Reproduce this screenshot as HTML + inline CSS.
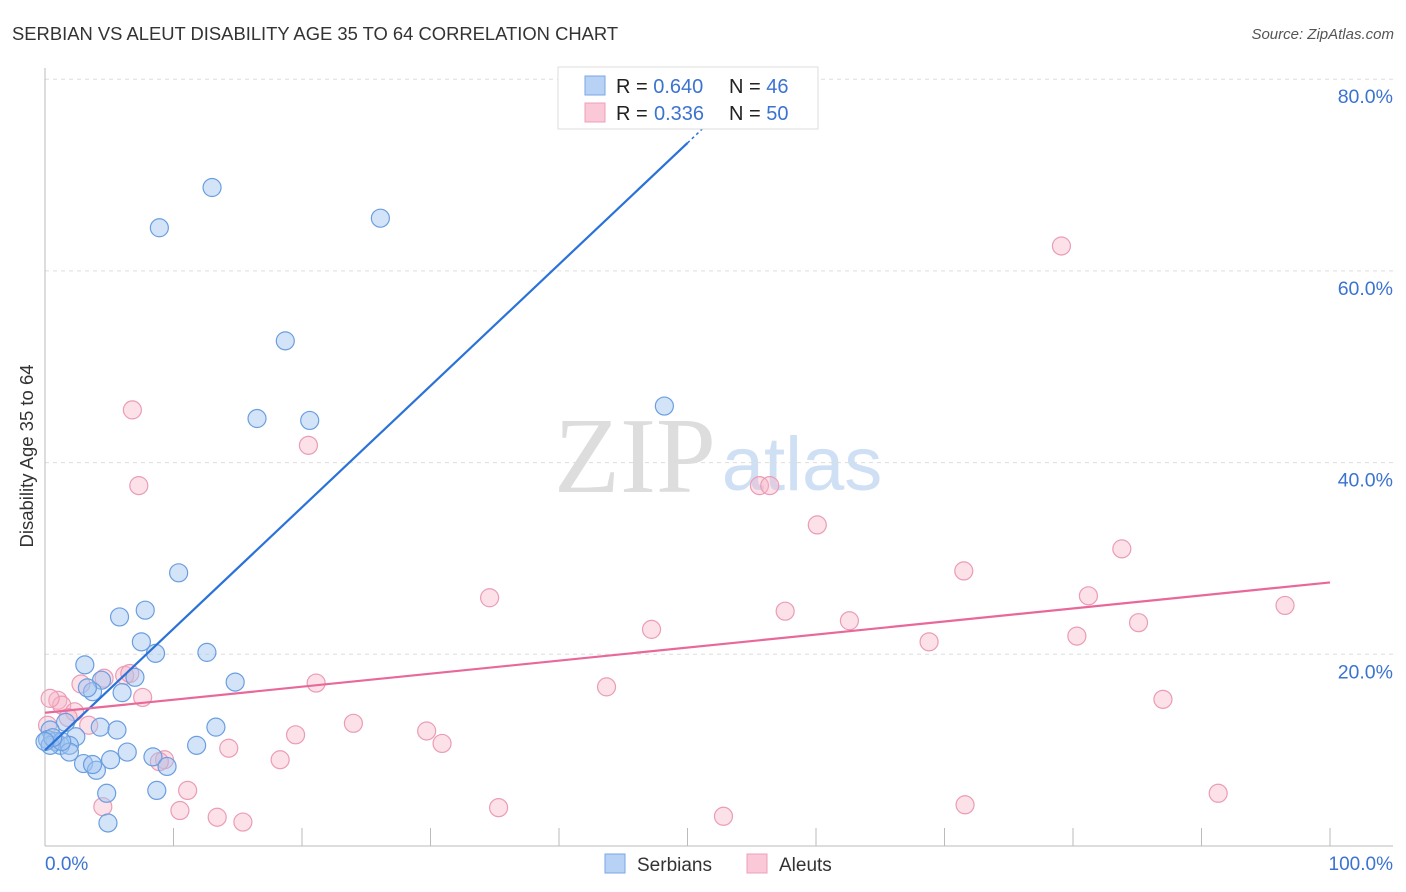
<!DOCTYPE html>
<html><head><meta charset="utf-8"><style>
body{margin:0;background:#fff;font-family:"Liberation Sans",sans-serif;}
svg{display:block}
</style></head><body>
<svg id="chart" width="1406" height="892" xmlns="http://www.w3.org/2000/svg">
<text x="12" y="40" font-size="18.4" fill="#333">SERBIAN VS ALEUT DISABILITY AGE 35 TO 64 CORRELATION CHART</text>
<text x="1394" y="39" font-size="15" fill="#555" font-style="italic" text-anchor="end">Source: ZipAtlas.com</text>
<text x="635" y="492" font-size="108" fill="#ddd" font-family="Liberation Serif,serif" text-anchor="middle">ZIP</text>
<text x="802" y="490" font-size="76" fill="#cfdff4" text-anchor="middle">atlas</text>
<g id="grid"></g>
<g id="axes"></g>
<g id="pts"></g>
<g id="trend"></g>
<text transform="translate(33,456) rotate(-90)" font-size="18.5" fill="#333" text-anchor="middle">Disability Age 35 to 64</text>
<g>
<rect x="558" y="67" width="260" height="62" fill="#fff" stroke="#ddd"/>
<rect x="585" y="76" width="20" height="19" fill="#b8d2f6" stroke="#7aa6e6"/>
<rect x="585" y="103" width="20" height="19" fill="#fac8d6" stroke="#eca0b8"/>
<text x="616" y="93" font-size="20" fill="#222">R = <tspan fill="#3b73d1">0.640</tspan><tspan x="729">N = </tspan><tspan fill="#3b73d1">46</tspan></text>
<text x="616" y="120" font-size="20" fill="#222">R = <tspan x="654" fill="#3b73d1">0.336</tspan><tspan x="729">N = </tspan><tspan fill="#3b73d1">50</tspan></text>
</g>
<g>
<rect x="605" y="854" width="20" height="19" fill="#b8d2f6" stroke="#7aa6e6"/>
<text x="637" y="871" font-size="19" fill="#333">Serbians</text>
<rect x="747" y="854" width="20" height="19" fill="#fac8d6" stroke="#eca0b8"/>
<text x="779" y="871" font-size="19" fill="#333">Aleuts</text>
</g>
</svg>
<script>
const blueX=[13.0,8.9,26.1,18.7,16.5,20.6,48.2,10.4,7.8,5.8,7.5,8.6,12.6,3.1,14.8,4.4,7.0,6.0,3.7,3.3,13.3,4.3,5.6,2.4,1.6,0.4,0.8,1.2,1.9,0.2,6.4,8.4,5.1,1.9,3.0,4.0,3.7,11.8,9.5,8.7,4.8,4.9,0.4,1.3,0.6,0.0];
const blueY=[68.7,64.5,65.5,52.7,44.6,44.4,45.9,28.5,24.6,23.9,21.3,20.1,20.2,18.9,17.1,17.3,17.6,16.0,16.1,16.5,12.4,12.4,12.1,11.4,12.9,12.1,10.9,10.5,10.5,11.1,9.8,9.3,9.0,9.8,8.6,7.9,8.5,10.5,8.3,5.8,5.5,2.4,10.5,10.9,11.3,10.9];
const pinkX=[79.1,6.8,20.5,7.3,55.6,56.4,60.1,83.8,71.5,34.6,81.2,57.6,62.6,85.1,47.2,80.3,68.8,96.5,21.1,43.7,87.0,7.6,6.2,6.6,4.6,2.8,1.0,1.3,0.4,2.3,3.4,1.8,24.0,19.5,29.7,30.9,14.3,9.3,8.9,18.3,11.1,4.5,10.5,13.4,15.4,35.3,52.8,71.6,91.3,0.2];
const pinkY=[62.6,45.5,41.8,37.6,37.6,37.6,33.5,31.0,28.7,25.9,26.1,24.5,23.5,23.3,22.6,21.9,21.3,25.1,17.0,16.6,15.3,15.5,17.8,18.0,17.5,16.9,15.2,14.7,15.4,14.0,12.6,13.4,12.8,11.6,12.0,10.7,10.2,9.0,8.8,9.0,5.8,4.1,3.7,3.0,2.5,4.0,3.1,4.3,5.5,12.6];
const yTicks=[20,40,60,80];
const xTickVals=[10,20,30,40,50,60,70,80,90,100];
const blueTrend=[10.0,1.267]; // intercept, slope
const pinkTrend=[13.9,0.136];
const NS="http://www.w3.org/2000/svg";
const X=v=>45+v*12.85, Y=v=>846-v*9.585;
function mk(tag,attrs,parent){const e=document.createElementNS(NS,tag);for(const k in attrs)e.setAttribute(k,attrs[k]);document.getElementById(parent).appendChild(e);return e;}
yTicks.forEach(t=>{
  const l=mk('line',{x1:45,x2:1393,y1:Y(t),y2:Y(t),stroke:'#ddd','stroke-dasharray':'4,4'},'grid');
  
  
  const tx=mk('text',{x:1393,y:Y(t)+24,'font-size':19.5,fill:'#3b73d1','text-anchor':'end'},'grid');
  tx.textContent=t.toFixed(1)+'%';
  
  
});
const ax=mk('line',{x1:45,x2:45,y1:68,y2:846,stroke:'#bbb'},'axes');


const bx=mk('line',{x1:45,x2:1393,y1:846,y2:846,stroke:'#bbb'},'axes');


xTickVals.forEach(t=>{
  const l=mk('line',{x1:X(t),x2:X(t),y1:828,y2:846,stroke:'#bbb'},'axes');
  
  
});
[[0,'0.0%','start',45],[100,'100.0%','end',1393]].forEach(a=>{
  const t=mk('text',{x:a[3],y:870,'font-size':19,fill:'#3b73d1','text-anchor':a[2]},'axes');
  t.textContent=a[1];
  
  
});
pinkX.forEach((v,i)=>{
  const c=mk('circle',{cx:X(v),cy:Y(pinkY[i]),r:9,fill:'rgba(248,180,200,0.4)',stroke:'#eb9cb5','stroke-width':1.2},'pts');
  
  
});
blueX.forEach((v,i)=>{
  const c=mk('circle',{cx:X(v),cy:Y(blueY[i]),r:9,fill:'rgba(160,195,240,0.45)',stroke:'#6a9ee0','stroke-width':1.2},'pts');
  
  
});
const bl=mk('line',{x1:X(0),y1:Y(blueTrend[0]),x2:X(50),y2:Y(blueTrend[0]+50*blueTrend[1]),stroke:'#2a72d8','stroke-width':2.2},'trend');


const bd=mk('line',{x1:X(50),y1:Y(blueTrend[0]+50*blueTrend[1]),x2:X(52.3),y2:Y(blueTrend[0]+52.3*blueTrend[1]),stroke:'#2a72d8','stroke-width':1.5,'stroke-dasharray':'3,3'},'trend');


const pl=mk('line',{x1:X(0),y1:Y(pinkTrend[0]),x2:X(100),y2:Y(pinkTrend[0]+100*pinkTrend[1]),stroke:'#e8689a','stroke-width':2.2},'trend');


</script>
</body></html>
